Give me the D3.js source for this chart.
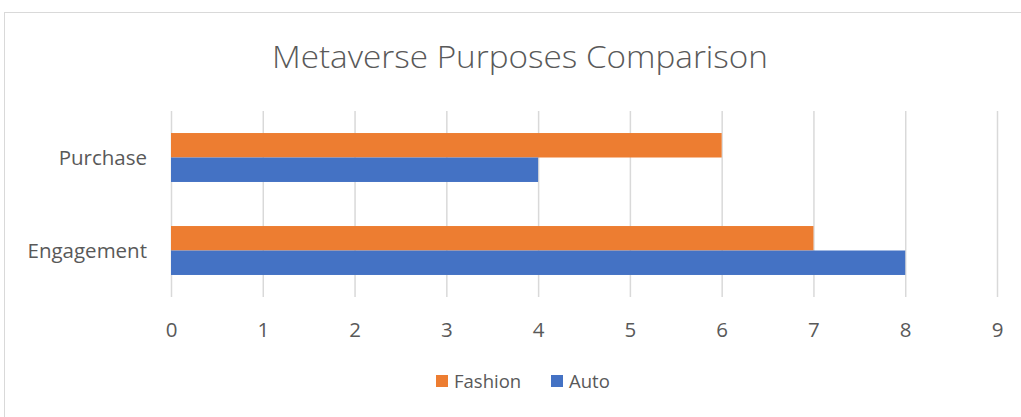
<!DOCTYPE html>
<html>
<head>
<meta charset="utf-8">
<script src="https://cdn.jsdelivr.net/npm/d3@7"></script>
<style>
  html, body { margin: 0; padding: 0; background: #fff; }
  svg { display: block; }
  text { font-family: "Open Sans", "Noto Sans", sans-serif; fill: #595959; }
</style>
</head>
<body>
<svg id="chart" width="1021" height="417"></svg>
<script>
// Categories (listed bottom to top as in the chart) and series values
const categories = ["Engagement", "Purchase"];
const seriesNames = ["Fashion", "Auto"];
const fashionValues = [7, 6];
const autoValues = [8, 4];
const tickValues = [0, 1, 2, 3, 4, 5, 6, 7, 8, 9];
const colors = { Fashion: "#ED7D31", Auto: "#4472C4" };

const svg = d3.select("#chart");
const W = 1021, H = 417;

// Chart area frame
svg.append("rect")
  .attr("x", 4.5).attr("y", 12.5)
  .attr("width", W + 20).attr("height", H + 20)
  .attr("fill", "#fff").attr("stroke", "#d9d9d9").attr("stroke-width", 1);

// Title
svg.append("text")
  .attr("x", 520).attr("y", 68)
  .attr("text-anchor", "middle")
  .attr("font-size", 31)
  .attr("font-weight", 300)
  .attr("textLength", 496)
  .attr("lengthAdjust", "spacingAndGlyphs")
  .text("Metaverse Purposes Comparison");

const plot = { left: 171, right: 997, top: 111, bottom: 297 };

const x = d3.scaleLinear().domain([0, 9]).range([plot.left, plot.right]);
// Engagement at the bottom, Purchase on top
const y = d3.scaleBand().domain(categories.slice().reverse())
  .range([plot.top, plot.bottom]).paddingInner(0).paddingOuter(0);
const inner = d3.scaleBand().domain(seriesNames)
  .range([0, y.bandwidth()]).paddingInner(0).paddingOuter(0.9);

// Vertical gridlines
svg.append("g")
  .selectAll("line")
  .data(tickValues)
  .join("line")
  .attr("x1", d => x(d) + 0.5).attr("x2", d => x(d) + 0.5)
  .attr("y1", plot.top).attr("y2", plot.bottom)
  .attr("stroke", "#d9d9d9").attr("stroke-width", 1.5);

// X axis tick labels
const xAxis = d3.axisBottom(x).tickValues(tickValues).tickSize(0).tickPadding(0).tickFormat(d3.format("d"));
const gx = svg.append("g").attr("transform", `translate(0,${plot.bottom + 40})`).call(xAxis);
gx.select(".domain").remove();
gx.selectAll("text").attr("font-size", 20.5).attr("fill", "#595959")
  .attr("font-family", '"Open Sans", sans-serif').attr("dy", 0);

// Category labels
const yAxis = d3.axisLeft(y).tickSize(0).tickPadding(0);
const gy = svg.append("g").attr("transform", `translate(${plot.left - 24},0)`).call(yAxis);
gy.select(".domain").remove();
gy.selectAll("text").attr("font-size", 20.5).attr("fill", "#595959")
  .attr("font-family", '"Open Sans", sans-serif').attr("dy", "0.35em");

// Bars
const rows = categories.map((c, i) => ({
  category: c,
  values: [
    { series: "Fashion", value: fashionValues[i] },
    { series: "Auto", value: autoValues[i] }
  ]
}));

const groups = svg.append("g").selectAll("g")
  .data(rows)
  .join("g")
  .attr("transform", d => `translate(0,${y(d.category)})`);

groups.selectAll("rect")
  .data(d => d.values)
  .join("rect")
  .attr("x", x(0))
  .attr("y", d => inner(d.series))
  .attr("width", d => x(d.value) - x(0))
  .attr("height", inner.bandwidth())
  .attr("fill", d => colors[d.series]);

// Legend
const legendItems = [
  { name: "Fashion", x: 436 },
  { name: "Auto", x: 551 }
];
const lg = svg.append("g").selectAll("g").data(legendItems).join("g")
  .attr("transform", d => `translate(${d.x},375)`);
lg.append("rect").attr("width", 12).attr("height", 12).attr("fill", d => colors[d.name]);
lg.append("text").attr("x", 18).attr("y", 6).attr("dy", "0.36em")
  .attr("font-size", 18.5).text(d => d.name);
</script>
</body>
</html>
